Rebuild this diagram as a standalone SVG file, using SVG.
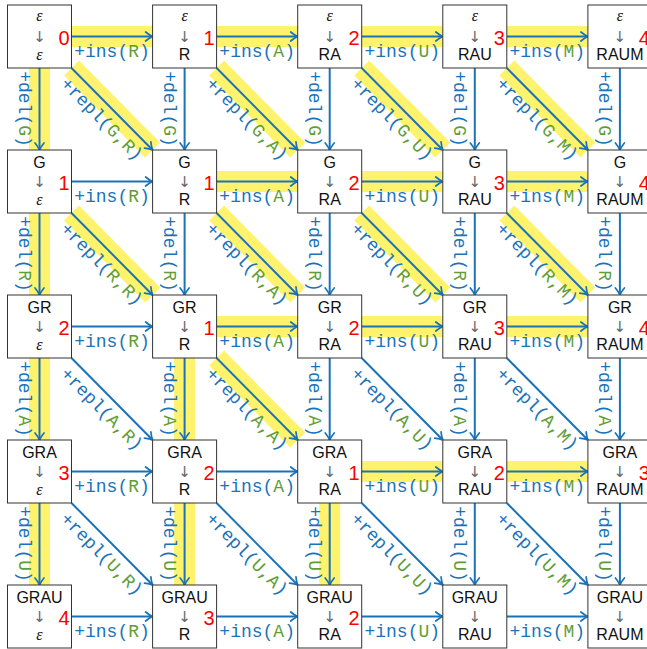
<svg xmlns="http://www.w3.org/2000/svg" width="647" height="649" viewBox="0 0 647 649">
<style>
.box{fill:#fff;stroke:#333;stroke-width:1}
.t{font-family:"Liberation Sans",Arial,sans-serif;font-size:16px;text-anchor:middle;fill:#111}
.eps{font-family:"Liberation Serif","DejaVu Serif",serif;font-style:italic;font-size:16px;text-anchor:middle;fill:#111}
.arr{font-family:"DejaVu Sans",sans-serif;font-size:15px;fill:#666;text-anchor:middle}
.num{font-family:"Liberation Sans",Arial,sans-serif;font-size:20px;fill:#f00;text-anchor:end}
.e{stroke:#1a73b9;stroke-width:2;fill:none;marker-end:url(#ah)}
.hl{stroke:#fff36d;stroke-width:21;stroke-linecap:butt;fill:none}
.lb{font-family:"Liberation Mono","DejaVu Sans Mono",monospace;font-size:18px;fill:#1a73b9;text-anchor:middle}
.g{fill:#5f9e36}
</style>
<defs>
<marker id="ah" viewBox="-9 -6 11 12" refX="0" refY="0" markerWidth="11" markerHeight="12" markerUnits="userSpaceOnUse" orient="auto" overflow="visible">
<path d="M-7,-4.5 Q-3,-1.2 0,0 Q-3,1.2 -7,4.5" fill="none" stroke="#1a73b9" stroke-width="1.7" stroke-linecap="round"/>
</marker>
</defs>
<rect width="647" height="649" fill="#fff"/>
<g id="highlights">
<line class="hl" x1="71.5" y1="36.5" x2="152.6" y2="36.5"/>
<line class="hl" x1="216.6" y1="36.5" x2="297.7" y2="36.5"/>
<line class="hl" x1="361.7" y1="36.5" x2="442.8" y2="36.5"/>
<line class="hl" x1="506.8" y1="36.5" x2="587.9" y2="36.5"/>
<line class="hl" x1="216.6" y1="181.5" x2="297.7" y2="181.5"/>
<line class="hl" x1="361.7" y1="181.5" x2="442.8" y2="181.5"/>
<line class="hl" x1="506.8" y1="181.5" x2="587.9" y2="181.5"/>
<line class="hl" x1="216.6" y1="326.5" x2="297.7" y2="326.5"/>
<line class="hl" x1="361.7" y1="326.5" x2="442.8" y2="326.5"/>
<line class="hl" x1="506.8" y1="326.5" x2="587.9" y2="326.5"/>
<line class="hl" x1="361.7" y1="471.5" x2="442.8" y2="471.5"/>
<line class="hl" x1="506.8" y1="471.5" x2="587.9" y2="471.5"/>
<line class="hl" x1="39.5" y1="68" x2="39.5" y2="150"/>
<line class="hl" x1="39.5" y1="213" x2="39.5" y2="295"/>
<line class="hl" x1="39.5" y1="358" x2="39.5" y2="440"/>
<line class="hl" x1="184.6" y1="358" x2="184.6" y2="440"/>
<line class="hl" x1="39.5" y1="503" x2="39.5" y2="585"/>
<line class="hl" x1="184.6" y1="503" x2="184.6" y2="585"/>
<line class="hl" x1="329.7" y1="503" x2="329.7" y2="585"/>
<line class="hl" x1="71.5" y1="68" x2="152.6" y2="150"/>
<line class="hl" x1="216.6" y1="68" x2="297.7" y2="150"/>
<line class="hl" x1="361.7" y1="68" x2="442.8" y2="150"/>
<line class="hl" x1="506.8" y1="68" x2="587.9" y2="150"/>
<line class="hl" x1="71.5" y1="213" x2="152.6" y2="295"/>
<line class="hl" x1="216.6" y1="213" x2="297.7" y2="295"/>
<line class="hl" x1="361.7" y1="213" x2="442.8" y2="295"/>
<line class="hl" x1="506.8" y1="213" x2="587.9" y2="295"/>
<line class="hl" x1="216.6" y1="358" x2="297.7" y2="440"/>
</g>
<g id="connectors">
<!-- horizontal: insert -->
<line class="e" x1="71.5" y1="36.5" x2="152.6" y2="36.5"/><text class="lb" x="112.05" y="56.5">+ins(<tspan class="g">R</tspan>)</text>
<line class="e" x1="216.6" y1="36.5" x2="297.7" y2="36.5"/><text class="lb" x="257.15" y="56.5">+ins(<tspan class="g">A</tspan>)</text>
<line class="e" x1="361.7" y1="36.5" x2="442.8" y2="36.5"/><text class="lb" x="402.25" y="56.5">+ins(<tspan class="g">U</tspan>)</text>
<line class="e" x1="506.8" y1="36.5" x2="587.9" y2="36.5"/><text class="lb" x="547.35" y="56.5">+ins(<tspan class="g">M</tspan>)</text>
<line class="e" x1="71.5" y1="181.5" x2="152.6" y2="181.5"/><text class="lb" x="112.05" y="201.5">+ins(<tspan class="g">R</tspan>)</text>
<line class="e" x1="216.6" y1="181.5" x2="297.7" y2="181.5"/><text class="lb" x="257.15" y="201.5">+ins(<tspan class="g">A</tspan>)</text>
<line class="e" x1="361.7" y1="181.5" x2="442.8" y2="181.5"/><text class="lb" x="402.25" y="201.5">+ins(<tspan class="g">U</tspan>)</text>
<line class="e" x1="506.8" y1="181.5" x2="587.9" y2="181.5"/><text class="lb" x="547.35" y="201.5">+ins(<tspan class="g">M</tspan>)</text>
<line class="e" x1="71.5" y1="326.5" x2="152.6" y2="326.5"/><text class="lb" x="112.05" y="346.5">+ins(<tspan class="g">R</tspan>)</text>
<line class="e" x1="216.6" y1="326.5" x2="297.7" y2="326.5"/><text class="lb" x="257.15" y="346.5">+ins(<tspan class="g">A</tspan>)</text>
<line class="e" x1="361.7" y1="326.5" x2="442.8" y2="326.5"/><text class="lb" x="402.25" y="346.5">+ins(<tspan class="g">U</tspan>)</text>
<line class="e" x1="506.8" y1="326.5" x2="587.9" y2="326.5"/><text class="lb" x="547.35" y="346.5">+ins(<tspan class="g">M</tspan>)</text>
<line class="e" x1="71.5" y1="471.5" x2="152.6" y2="471.5"/><text class="lb" x="112.05" y="491.5">+ins(<tspan class="g">R</tspan>)</text>
<line class="e" x1="216.6" y1="471.5" x2="297.7" y2="471.5"/><text class="lb" x="257.15" y="491.5">+ins(<tspan class="g">A</tspan>)</text>
<line class="e" x1="361.7" y1="471.5" x2="442.8" y2="471.5"/><text class="lb" x="402.25" y="491.5">+ins(<tspan class="g">U</tspan>)</text>
<line class="e" x1="506.8" y1="471.5" x2="587.9" y2="471.5"/><text class="lb" x="547.35" y="491.5">+ins(<tspan class="g">M</tspan>)</text>
<line class="e" x1="71.5" y1="616.5" x2="152.6" y2="616.5"/><text class="lb" x="112.05" y="636.5">+ins(<tspan class="g">R</tspan>)</text>
<line class="e" x1="216.6" y1="616.5" x2="297.7" y2="616.5"/><text class="lb" x="257.15" y="636.5">+ins(<tspan class="g">A</tspan>)</text>
<line class="e" x1="361.7" y1="616.5" x2="442.8" y2="616.5"/><text class="lb" x="402.25" y="636.5">+ins(<tspan class="g">U</tspan>)</text>
<line class="e" x1="506.8" y1="616.5" x2="587.9" y2="616.5"/><text class="lb" x="547.35" y="636.5">+ins(<tspan class="g">M</tspan>)</text>
<!-- vertical: delete -->
<line class="e" x1="39.5" y1="68" x2="39.5" y2="150"/><text class="lb" transform="translate(18.5,109) rotate(90)">+del(<tspan class="g">G</tspan>)</text>
<line class="e" x1="184.6" y1="68" x2="184.6" y2="150"/><text class="lb" transform="translate(163.6,109) rotate(90)">+del(<tspan class="g">G</tspan>)</text>
<line class="e" x1="329.7" y1="68" x2="329.7" y2="150"/><text class="lb" transform="translate(308.7,109) rotate(90)">+del(<tspan class="g">G</tspan>)</text>
<line class="e" x1="474.8" y1="68" x2="474.8" y2="150"/><text class="lb" transform="translate(453.8,109) rotate(90)">+del(<tspan class="g">G</tspan>)</text>
<line class="e" x1="619.9" y1="68" x2="619.9" y2="150"/><text class="lb" transform="translate(598.9,109) rotate(90)">+del(<tspan class="g">G</tspan>)</text>
<line class="e" x1="39.5" y1="213" x2="39.5" y2="295"/><text class="lb" transform="translate(18.5,254) rotate(90)">+del(<tspan class="g">R</tspan>)</text>
<line class="e" x1="184.6" y1="213" x2="184.6" y2="295"/><text class="lb" transform="translate(163.6,254) rotate(90)">+del(<tspan class="g">R</tspan>)</text>
<line class="e" x1="329.7" y1="213" x2="329.7" y2="295"/><text class="lb" transform="translate(308.7,254) rotate(90)">+del(<tspan class="g">R</tspan>)</text>
<line class="e" x1="474.8" y1="213" x2="474.8" y2="295"/><text class="lb" transform="translate(453.8,254) rotate(90)">+del(<tspan class="g">R</tspan>)</text>
<line class="e" x1="619.9" y1="213" x2="619.9" y2="295"/><text class="lb" transform="translate(598.9,254) rotate(90)">+del(<tspan class="g">R</tspan>)</text>
<line class="e" x1="39.5" y1="358" x2="39.5" y2="440"/><text class="lb" transform="translate(18.5,399) rotate(90)">+del(<tspan class="g">A</tspan>)</text>
<line class="e" x1="184.6" y1="358" x2="184.6" y2="440"/><text class="lb" transform="translate(163.6,399) rotate(90)">+del(<tspan class="g">A</tspan>)</text>
<line class="e" x1="329.7" y1="358" x2="329.7" y2="440"/><text class="lb" transform="translate(308.7,399) rotate(90)">+del(<tspan class="g">A</tspan>)</text>
<line class="e" x1="474.8" y1="358" x2="474.8" y2="440"/><text class="lb" transform="translate(453.8,399) rotate(90)">+del(<tspan class="g">A</tspan>)</text>
<line class="e" x1="619.9" y1="358" x2="619.9" y2="440"/><text class="lb" transform="translate(598.9,399) rotate(90)">+del(<tspan class="g">A</tspan>)</text>
<line class="e" x1="39.5" y1="503" x2="39.5" y2="585"/><text class="lb" transform="translate(18.5,544) rotate(90)">+del(<tspan class="g">U</tspan>)</text>
<line class="e" x1="184.6" y1="503" x2="184.6" y2="585"/><text class="lb" transform="translate(163.6,544) rotate(90)">+del(<tspan class="g">U</tspan>)</text>
<line class="e" x1="329.7" y1="503" x2="329.7" y2="585"/><text class="lb" transform="translate(308.7,544) rotate(90)">+del(<tspan class="g">U</tspan>)</text>
<line class="e" x1="474.8" y1="503" x2="474.8" y2="585"/><text class="lb" transform="translate(453.8,544) rotate(90)">+del(<tspan class="g">U</tspan>)</text>
<line class="e" x1="619.9" y1="503" x2="619.9" y2="585"/><text class="lb" transform="translate(598.9,544) rotate(90)">+del(<tspan class="g">U</tspan>)</text>
<!-- diagonal: replace -->
<line class="e" x1="71.5" y1="68" x2="152.6" y2="150"/><text class="lb" transform="translate(97.85,123.1) rotate(45.3)">+repl(<tspan class="g">G,R</tspan>)</text>
<line class="e" x1="216.6" y1="68" x2="297.7" y2="150"/><text class="lb" transform="translate(242.95,123.1) rotate(45.3)">+repl(<tspan class="g">G,A</tspan>)</text>
<line class="e" x1="361.7" y1="68" x2="442.8" y2="150"/><text class="lb" transform="translate(388.05,123.1) rotate(45.3)">+repl(<tspan class="g">G,U</tspan>)</text>
<line class="e" x1="506.8" y1="68" x2="587.9" y2="150"/><text class="lb" transform="translate(533.15,123.1) rotate(45.3)">+repl(<tspan class="g">G,M</tspan>)</text>
<line class="e" x1="71.5" y1="213" x2="152.6" y2="295"/><text class="lb" transform="translate(97.85,268.1) rotate(45.3)">+repl(<tspan class="g">R,R</tspan>)</text>
<line class="e" x1="216.6" y1="213" x2="297.7" y2="295"/><text class="lb" transform="translate(242.95,268.1) rotate(45.3)">+repl(<tspan class="g">R,A</tspan>)</text>
<line class="e" x1="361.7" y1="213" x2="442.8" y2="295"/><text class="lb" transform="translate(388.05,268.1) rotate(45.3)">+repl(<tspan class="g">R,U</tspan>)</text>
<line class="e" x1="506.8" y1="213" x2="587.9" y2="295"/><text class="lb" transform="translate(533.15,268.1) rotate(45.3)">+repl(<tspan class="g">R,M</tspan>)</text>
<line class="e" x1="71.5" y1="358" x2="152.6" y2="440"/><text class="lb" transform="translate(97.85,413.1) rotate(45.3)">+repl(<tspan class="g">A,R</tspan>)</text>
<line class="e" x1="216.6" y1="358" x2="297.7" y2="440"/><text class="lb" transform="translate(242.95,413.1) rotate(45.3)">+repl(<tspan class="g">A,A</tspan>)</text>
<line class="e" x1="361.7" y1="358" x2="442.8" y2="440"/><text class="lb" transform="translate(388.05,413.1) rotate(45.3)">+repl(<tspan class="g">A,U</tspan>)</text>
<line class="e" x1="506.8" y1="358" x2="587.9" y2="440"/><text class="lb" transform="translate(533.15,413.1) rotate(45.3)">+repl(<tspan class="g">A,M</tspan>)</text>
<line class="e" x1="71.5" y1="503" x2="152.6" y2="585"/><text class="lb" transform="translate(97.85,558.1) rotate(45.3)">+repl(<tspan class="g">U,R</tspan>)</text>
<line class="e" x1="216.6" y1="503" x2="297.7" y2="585"/><text class="lb" transform="translate(242.95,558.1) rotate(45.3)">+repl(<tspan class="g">U,A</tspan>)</text>
<line class="e" x1="361.7" y1="503" x2="442.8" y2="585"/><text class="lb" transform="translate(388.05,558.1) rotate(45.3)">+repl(<tspan class="g">U,U</tspan>)</text>
<line class="e" x1="506.8" y1="503" x2="587.9" y2="585"/><text class="lb" transform="translate(533.15,558.1) rotate(45.3)">+repl(<tspan class="g">U,M</tspan>)</text>
</g>
<g id="nodes">
<g id="n00"><rect class="box" x="7.5" y="5" width="64" height="63"/><text class="eps" x="39.5" y="21">ε</text><text class="arr" x="39.5" y="42">↓</text><text class="eps" x="39.5" y="60">ε</text><text class="num" x="69.5" y="45">0</text></g>
<g id="n01"><rect class="box" x="152.6" y="5" width="64" height="63"/><text class="eps" x="184.6" y="21">ε</text><text class="arr" x="184.6" y="42">↓</text><text class="t" x="184.6" y="60">R</text><text class="num" x="214.6" y="45">1</text></g>
<g id="n02"><rect class="box" x="297.7" y="5" width="64" height="63"/><text class="eps" x="329.7" y="21">ε</text><text class="arr" x="329.7" y="42">↓</text><text class="t" x="329.7" y="60">RA</text><text class="num" x="359.7" y="45">2</text></g>
<g id="n03"><rect class="box" x="442.8" y="5" width="64" height="63"/><text class="eps" x="474.8" y="21">ε</text><text class="arr" x="474.8" y="42">↓</text><text class="t" x="474.8" y="60">RAU</text><text class="num" x="504.8" y="45">3</text></g>
<g id="n04"><rect class="box" x="587.9" y="5" width="64" height="63"/><text class="eps" x="619.9" y="21">ε</text><text class="arr" x="619.9" y="42">↓</text><text class="t" x="619.9" y="60">RAUM</text><text class="num" x="649.9" y="45">4</text></g>

<g id="n10"><rect class="box" x="7.5" y="150" width="64" height="63"/><text class="t" x="39.5" y="168">G</text><text class="arr" x="39.5" y="187">↓</text><text class="eps" x="39.5" y="205">ε</text><text class="num" x="69.5" y="190">1</text></g>
<g id="n11"><rect class="box" x="152.6" y="150" width="64" height="63"/><text class="t" x="184.6" y="168">G</text><text class="arr" x="184.6" y="187">↓</text><text class="t" x="184.6" y="205">R</text><text class="num" x="214.6" y="190">1</text></g>
<g id="n12"><rect class="box" x="297.7" y="150" width="64" height="63"/><text class="t" x="329.7" y="168">G</text><text class="arr" x="329.7" y="187">↓</text><text class="t" x="329.7" y="205">RA</text><text class="num" x="359.7" y="190">2</text></g>
<g id="n13"><rect class="box" x="442.8" y="150" width="64" height="63"/><text class="t" x="474.8" y="168">G</text><text class="arr" x="474.8" y="187">↓</text><text class="t" x="474.8" y="205">RAU</text><text class="num" x="504.8" y="190">3</text></g>
<g id="n14"><rect class="box" x="587.9" y="150" width="64" height="63"/><text class="t" x="619.9" y="168">G</text><text class="arr" x="619.9" y="187">↓</text><text class="t" x="619.9" y="205">RAUM</text><text class="num" x="649.9" y="190">4</text></g>

<g id="n20"><rect class="box" x="7.5" y="295" width="64" height="63"/><text class="t" x="39.5" y="313">GR</text><text class="arr" x="39.5" y="332">↓</text><text class="eps" x="39.5" y="350">ε</text><text class="num" x="69.5" y="335">2</text></g>
<g id="n21"><rect class="box" x="152.6" y="295" width="64" height="63"/><text class="t" x="184.6" y="313">GR</text><text class="arr" x="184.6" y="332">↓</text><text class="t" x="184.6" y="350">R</text><text class="num" x="214.6" y="335">1</text></g>
<g id="n22"><rect class="box" x="297.7" y="295" width="64" height="63"/><text class="t" x="329.7" y="313">GR</text><text class="arr" x="329.7" y="332">↓</text><text class="t" x="329.7" y="350">RA</text><text class="num" x="359.7" y="335">2</text></g>
<g id="n23"><rect class="box" x="442.8" y="295" width="64" height="63"/><text class="t" x="474.8" y="313">GR</text><text class="arr" x="474.8" y="332">↓</text><text class="t" x="474.8" y="350">RAU</text><text class="num" x="504.8" y="335">3</text></g>
<g id="n24"><rect class="box" x="587.9" y="295" width="64" height="63"/><text class="t" x="619.9" y="313">GR</text><text class="arr" x="619.9" y="332">↓</text><text class="t" x="619.9" y="350">RAUM</text><text class="num" x="649.9" y="335">4</text></g>

<g id="n30"><rect class="box" x="7.5" y="440" width="64" height="63"/><text class="t" x="39.5" y="458">GRA</text><text class="arr" x="39.5" y="477">↓</text><text class="eps" x="39.5" y="495">ε</text><text class="num" x="69.5" y="480">3</text></g>
<g id="n31"><rect class="box" x="152.6" y="440" width="64" height="63"/><text class="t" x="184.6" y="458">GRA</text><text class="arr" x="184.6" y="477">↓</text><text class="t" x="184.6" y="495">R</text><text class="num" x="214.6" y="480">2</text></g>
<g id="n32"><rect class="box" x="297.7" y="440" width="64" height="63"/><text class="t" x="329.7" y="458">GRA</text><text class="arr" x="329.7" y="477">↓</text><text class="t" x="329.7" y="495">RA</text><text class="num" x="359.7" y="480">1</text></g>
<g id="n33"><rect class="box" x="442.8" y="440" width="64" height="63"/><text class="t" x="474.8" y="458">GRA</text><text class="arr" x="474.8" y="477">↓</text><text class="t" x="474.8" y="495">RAU</text><text class="num" x="504.8" y="480">2</text></g>
<g id="n34"><rect class="box" x="587.9" y="440" width="64" height="63"/><text class="t" x="619.9" y="458">GRA</text><text class="arr" x="619.9" y="477">↓</text><text class="t" x="619.9" y="495">RAUM</text><text class="num" x="649.9" y="480">3</text></g>

<g id="n40"><rect class="box" x="7.5" y="585" width="64" height="63"/><text class="t" x="39.5" y="603">GRAU</text><text class="arr" x="39.5" y="622">↓</text><text class="eps" x="39.5" y="640">ε</text><text class="num" x="69.5" y="625">4</text></g>
<g id="n41"><rect class="box" x="152.6" y="585" width="64" height="63"/><text class="t" x="184.6" y="603">GRAU</text><text class="arr" x="184.6" y="622">↓</text><text class="t" x="184.6" y="640">R</text><text class="num" x="214.6" y="625">3</text></g>
<g id="n42"><rect class="box" x="297.7" y="585" width="64" height="63"/><text class="t" x="329.7" y="603">GRAU</text><text class="arr" x="329.7" y="622">↓</text><text class="t" x="329.7" y="640">RA</text><text class="num" x="359.7" y="625">2</text></g>
<g id="n43"><rect class="box" x="442.8" y="585" width="64" height="63"/><text class="t" x="474.8" y="603">GRAU</text><text class="arr" x="474.8" y="622">↓</text><text class="t" x="474.8" y="640">RAU</text></g>
<g id="n44"><rect class="box" x="587.9" y="585" width="64" height="63"/><text class="t" x="619.9" y="603">GRAU</text><text class="arr" x="619.9" y="622">↓</text><text class="t" x="619.9" y="640">RAUM</text></g>
</g>
</svg>
